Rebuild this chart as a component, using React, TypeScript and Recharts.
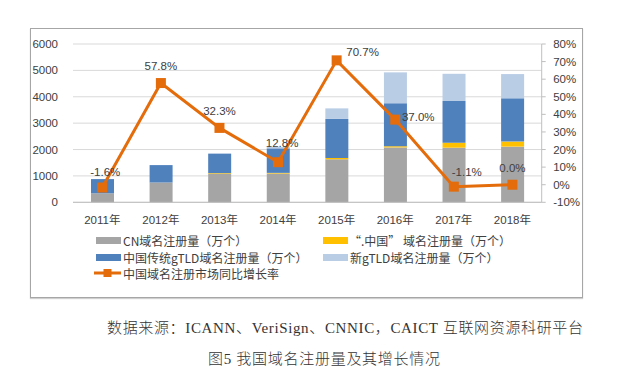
import React from 'react';
import { ComposedChart, Bar, Line, XAxis, YAxis, CartesianGrid, LabelList } from 'recharts';

const years = ['2011年', '2012年', '2013年', '2014年', '2015年', '2016年', '2017年', '2018年'];
const cnDomains = [340, 750, 1080, 1090, 1630, 2080, 2070, 2110];
const zhongguoDomains = [0, 0, 25, 25, 50, 45, 190, 190];
const traditionalGtld = [540, 660, 740, 930, 1480, 1630, 1580, 1640];
const newGtld = [0, 0, 0, 50, 400, 1170, 1030, 920];
const growthRate = [-1.6, 57.8, 32.3, 12.8, 70.7, 37.0, -1.1, 0.0];
const leftTicks = [0, 1000, 2000, 3000, 4000, 5000, 6000];
const rightTicks = [-10, 0, 10, 20, 30, 40, 50, 60, 70, 80];
const labelOffsets = [
  [3, -16], [0, -17], [0, -17], [4, -19], [26, -8], [23, -3], [13, -15], [0, -17],
];

const seriesNames = {
  cn: 'CN域名注册量（万个）',
  zg: '“.中国” 域名注册量（万个）',
  trad: '中国传统gTLD域名注册量（万个）',
  newg: '新gTLD域名注册量（万个）',
  growth: '中国域名注册市场同比增长率',
};

const COLORS = {
  cn: '#a5a5a5',
  zg: '#ffc000',
  trad: '#4f81bd',
  newg: '#b9cde5',
  growth: '#e46c0a',
};

const data = years.map((y, i) => ({
  year: y,
  cn: cnDomains[i],
  zg: zhongguoDomains[i],
  trad: traditionalGtld[i],
  newg: newGtld[i],
  growth: growthRate[i],
}));

const FONT = "'Liberation Sans', 'Noto Sans CJK SC', sans-serif";
const CJK = "'Noto Sans CJK SC', sans-serif";
const SERIF = "'Liberation Serif', 'Noto Sans CJK SC', serif";

const SquareDot = (props: any) => {
  const { cx, cy } = props;
  if (cx == null || cy == null) return null;
  return <rect x={cx - 5} y={cy - 5} width={10} height={10} fill={COLORS.growth} />;
};

const GrowthLabel = (props: any) => {
  const { x, y, index, value } = props;
  const off = labelOffsets[index] || [0, -17];
  return (
    <text
      x={x + off[0]}
      y={y + off[1]}
      textAnchor="middle"
      dominantBaseline="central"
      fontSize={11.5}
      fontFamily={FONT}
      fill="#404040"
    >
      {Number(value).toFixed(1) + '%'}
    </text>
  );
};

const LegendItem = ({ left, top, color, label, line, gap }: any) => (
  <div style={{ position: 'absolute', left, top, height: 16, display: 'flex', alignItems: 'center' }}>
    {line ? (
      <svg width={28} height={16} style={{ marginRight: 1 }}>
        <line x1={0} y1={8} x2={27} y2={8} stroke={color} strokeWidth={3} />
        <rect x={9.5} y={4} width={8} height={8} fill={color} />
      </svg>
    ) : (
      <div style={{ width: 25, height: 7, background: color, marginRight: gap ?? 2 }} />
    )}
    <span style={{ fontFamily: CJK, fontSize: 12, color: '#404040', whiteSpace: 'pre' }}>{label}</span>
  </div>
);

export default function App() {
  return (
    <div style={{ position: 'absolute', left: 0, top: 0, width: 622, height: 377, background: '#fff' }}>
      <div
        style={{
          position: 'absolute',
          left: 30,
          top: 28,
          width: 551,
          height: 268,
          border: '1px solid #a6a6a6',
          boxShadow: '0 1px 1px #cfcfcf',
          background: '#fff',
        }}
      />
      <div style={{ position: 'absolute', left: 0, top: 0 }}>
        <ComposedChart
          width={622}
          height={300}
          data={data}
          margin={{ top: 44, right: 40.3, left: 13, bottom: 67.7 }}
          barCategoryGap={0}
        >
          <CartesianGrid yAxisId="left" vertical={false} stroke="#d9d9d9" strokeWidth={1} />
          <XAxis
            dataKey="year"
            axisLine={{ stroke: '#bfbfbf' }}
            tickLine={false}
            tickSize={0}
            tickMargin={13.5}
            height={30}
            tick={{ fontSize: 11.5, fontFamily: FONT, fill: '#404040' }}
            interval={0}
          />
          <YAxis
            yAxisId="left"
            orientation="left"
            domain={[0, 6000]}
            ticks={leftTicks}
            width={60}
            axisLine={false}
            tickLine={false}
            tickSize={0}
            tickMargin={15}
            tick={{ fontSize: 11.5, fontFamily: FONT, fill: '#404040' }}
            interval={0}
          />
          <YAxis
            yAxisId="right"
            orientation="right"
            domain={[-10, 80]}
            ticks={rightTicks}
            width={40}
            axisLine={{ stroke: '#bfbfbf' }}
            tickLine={{ stroke: '#bfbfbf' }}
            tickSize={4}
            tickMargin={7.5}
            tickFormatter={(v: number) => `${v}%`}
            tick={{ fontSize: 11.5, fontFamily: FONT, fill: '#404040', textAnchor: 'start' }}
            interval={0}
          />
          <Bar yAxisId="left" dataKey="cn" stackId="a" fill={COLORS.cn} barSize={23} isAnimationActive={false} />
          <Bar yAxisId="left" dataKey="zg" stackId="a" fill={COLORS.zg} barSize={23} isAnimationActive={false} />
          <Bar yAxisId="left" dataKey="trad" stackId="a" fill={COLORS.trad} barSize={23} isAnimationActive={false} />
          <Bar yAxisId="left" dataKey="newg" stackId="a" fill={COLORS.newg} barSize={23} isAnimationActive={false} />
          <Line
            yAxisId="right"
            dataKey="growth"
            stroke={COLORS.growth}
            strokeWidth={3}
            dot={<SquareDot />}
            activeDot={false}
            isAnimationActive={false}
          >
            <LabelList dataKey="growth" content={<GrowthLabel />} />
          </Line>
        </ComposedChart>
      </div>
      <LegendItem left={96} top={232} color={COLORS.cn} label={seriesNames.cn} />
      <LegendItem left={323} top={232} color={COLORS.zg} label={seriesNames.zg} gap={1} />
      <LegendItem left={96} top={249} color={COLORS.trad} label={seriesNames.trad} />
      <LegendItem left={323} top={249} color={COLORS.newg} label={seriesNames.newg} />
      <LegendItem left={94} top={265} color={COLORS.growth} label={seriesNames.growth} line />
      <svg style={{ position: 'absolute', left: 0, top: 300 }} width={622} height={77}>
        <text
          x={107}
          y={27.5}
          dominantBaseline="central"
          fontFamily={SERIF}
          fontSize={15}
          fontWeight={300}
          fill="#333"
          textLength={476}
          lengthAdjust="spacing"
        >
          数据来源：ICANN、VeriSign、CNNIC，CAICT 互联网资源科研平台
        </text>
        <text
          x={208}
          y={59}
          dominantBaseline="central"
          fontFamily={SERIF}
          fontSize={15}
          fontWeight={300}
          fill="#333"
          textLength={232}
          lengthAdjust="spacing"
        >
          图5 我国域名注册量及其增长情况
        </text>
      </svg>
    </div>
  );
}
